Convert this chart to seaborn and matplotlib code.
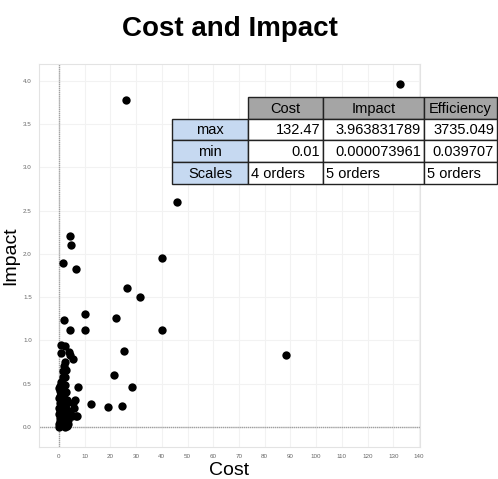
import pandas as pd
import seaborn as sns
import matplotlib.pyplot as plt
from matplotlib.patches import Rectangle

# Data
cost = [132.47, 25.9, 4.5, 4.7, 45.8, 40.2, 1.4, 6.5, 26.4, 31.4, 10.3, 22.1,
        1.8, 4.3, 10.3, 40.0, 88.3, 25.3, 21.3, 28.4, 7.6, 12.6, 19.1, 24.5,
        1.0, 2.3, 1.0, 4.0, 4.5, 5.3, 2.3, 1.9, 1.6, 2.7, 1.4, 2.3, 1.0, 0.5,
        1.5, 2.5, 0.3, 1.2, 2.8, 0.6, 0.2, 1.8, 3.0, 6.2, 5.5, 0.4, 0.9, 1.1,
        0.2, 2.0, 5.8, 0.6, 1.5, 1.8, 3.2, 4.2, 0.1, 1.0, 2.4, 4.9, 6.6, 7.1,
        0.3, 1.6, 3.4, 0.8, 2.1, 0.1, 1.2, 3.0, 0.01, 0.5, 2.2, 0.7, 1.3, 0.4,
        2.6, 3.6, 0.2, 1.7]
impact = [3.96, 3.78, 2.21, 2.10, 2.60, 1.95, 1.89, 1.83, 1.61, 1.50, 1.30, 1.26,
          1.23, 1.12, 1.12, 1.12, 0.83, 0.88, 0.60, 0.46, 0.46, 0.27, 0.23, 0.24,
          0.95, 0.94, 0.86, 0.87, 0.83, 0.78, 0.75, 0.70, 0.65, 0.66, 0.58, 0.58, 0.52, 0.47,
          0.46, 0.48, 0.42, 0.40, 0.40, 0.36, 0.33, 0.33, 0.31, 0.31, 0.28, 0.28, 0.30, 0.25,
          0.22, 0.22, 0.22, 0.19, 0.18, 0.16, 0.20, 0.17, 0.15, 0.14, 0.13, 0.13, 0.13, 0.13,
          0.10, 0.09, 0.08, 0.06, 0.05, 0.04, 0.02, 0.01, 0.0001, 0.01, 0.0, 0.12, 0.35, 0.07,
          0.26, 0.03, 0.45, 0.50]

df = pd.DataFrame({"Cost": cost, "Impact": impact})

# Table content
col_labels = ["Cost", "Impact", "Efficiency"]
row_labels = ["max", "min", "Scales"]
cells = [["132.47", "3.963831789", "3735.049"],
         ["0.01", "0.000073961", "0.039707"],
         ["4 orders", "5 orders", "5 orders"]]

sns.set_style("white")
plt.rcParams['font.family'] = ['Liberation Sans', 'DejaVu Sans']
plt.rcParams['text.color'] = 'black'
plt.rcParams['axes.labelcolor'] = 'black'

fig = plt.figure(figsize=(4.98, 4.79), dpi=100)
ax = fig.add_axes([0.078, 0.067, 0.765, 0.799])

ax.set_xlim(-7.8, 140.3)
ax.set_ylim(-0.23, 4.19)
ax.set_xticks(range(0, 141, 10))
ax.set_yticks([0, 0.5, 1, 1.5, 2, 2.5, 3, 3.5, 4])
ax.set_yticklabels(["0.0", "0.5", "1.0", "1.5", "2.0", "2.5", "3.0", "3.5", "4.0"])
ax.grid(True, color="#f2f2f2", lw=0.8)
ax.set_axisbelow(True)
ax.axvline(0, color="#a0a0a0", lw=1.0, ls=(0, (1, 0.5)), zorder=1)
ax.axhline(0, color="#a0a0a0", lw=1.0, ls=(0, (1, 0.5)), zorder=1)
for s in ax.spines.values():
    s.set_color("#e3e3e3")
    s.set_linewidth(0.8)
ax.tick_params(length=0, labelsize=4.5, labelcolor="#666666", pad=5)

sns.scatterplot(data=df, x="Cost", y="Impact", color="black", s=36,
                edgecolor="black", linewidth=0, ax=ax, zorder=3)
ax.set_xlabel("Cost", fontsize=14, labelpad=2)
ax.set_ylabel("Impact", fontsize=14, labelpad=3)

fig.text(0.461, 0.94, "Cost and Impact", ha="center", va="center",
         fontsize=20, fontweight="bold", color="black")

# Table drawn in pixel coordinates of the figure
W, H = 498, 479
xs = [172, 248, 323, 424, 497]
ys = [97, 118.5, 140, 162, 184]
def rect(x0, x1, y0, y1, fc):
    fig.add_artist(Rectangle((x0 / W, 1 - y1 / H), (x1 - x0) / W, (y1 - y0) / H,
                             transform=fig.transFigure, facecolor=fc,
                             edgecolor="#222222", lw=1.0, zorder=10))
def txt(x, y, s, ha):
    fig.text(x / W, 1 - y / H, s, ha=ha, va="center", fontsize=10.5,
             color="black", zorder=11)

for j, lab in enumerate(col_labels):
    rect(xs[j + 1], xs[j + 2], ys[0], ys[1], "#a5a5a5")
    txt((xs[j + 1] + xs[j + 2]) / 2, (ys[0] + ys[1]) / 2 + 1, lab, "center")
for i, lab in enumerate(row_labels):
    rect(xs[0], xs[1], ys[i + 1], ys[i + 2], "#c6d9f1")
    txt((xs[0] + xs[1]) / 2, (ys[i + 1] + ys[i + 2]) / 2 + 1, lab, "center")
    for j in range(3):
        rect(xs[j + 1], xs[j + 2], ys[i + 1], ys[i + 2], "white")
        yc = (ys[i + 1] + ys[i + 2]) / 2 + 1
        if i < 2:
            txt(xs[j + 2] - 3, yc, cells[i][j], "right")
        else:
            txt(xs[j + 1] + 3, yc, cells[i][j], "left")

fig.savefig("out.png", dpi=100)
